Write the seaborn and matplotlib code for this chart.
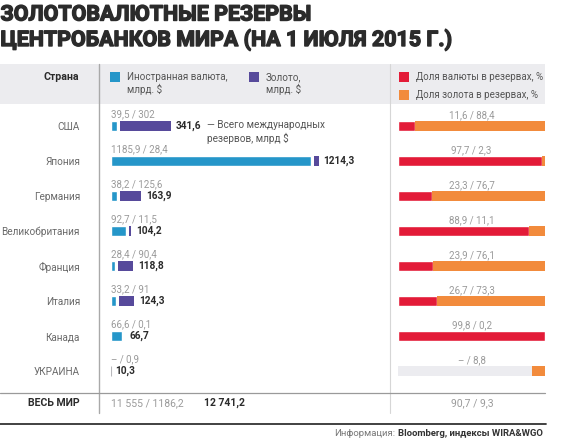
import numpy as np
import pandas as pd
import matplotlib
matplotlib.use("Agg")
import matplotlib.pyplot as plt
import matplotlib.patheffects as pe
import seaborn as sns
from matplotlib.lines import Line2D
from matplotlib.patches import Rectangle

# ---------------- data ----------------
countries = ["США", "Япония", "Германия", "Великобритания", "Франция",
             "Италия", "Канада", "УКРАИНА"]
fx_bn = [39.5, 1185.9, 38.2, 92.7, 28.4, 33.2, 66.6, np.nan]
gold_bn = [302, 28.4, 125.6, 11.5, 90.4, 91, 0.1, 0.9]
total_bn = [341.6, 1214.3, 163.9, 104.2, 118.8, 124.3, 66.7, 10.3]
fx_pct = [11.6, 97.7, 23.3, 88.9, 23.9, 26.7, 99.8, np.nan]
gold_pct = [88.4, 2.3, 76.7, 11.1, 76.1, 73.3, 0.2, 8.8]
world_label = "ВЕСЬ МИР"
world_fx_bn = 11555
world_gold_bn = 1186.2
world_total_bn = 12741.2
world_fx_pct = 90.7
world_gold_pct = 9.3

title_lines = ["ЗОЛОТОВАЛЮТНЫЕ РЕЗЕРВЫ", "ЦЕНТРОБАНКОВ МИРА (НА 1 ИЮЛЯ 2015 Г.)"]

# ---------------- style ----------------
BLUE = "#2596c9"
PURPLE = "#574a9b"
RED = "#e31b38"
ORANGE = "#f28b3c"
BAND = "#ececef"
EMPTY = "#ececf0"
DARK = "#2b2b2b"
MID = "#6a6a6a"
LIGHT = "#9a9a9a"

W, H = 580, 438
sns.set_theme(style="white")
plt.rcParams["font.family"] = ["Roboto", "DejaVu Sans"]
PT = 72 / 100.0  # points per pixel at dpi 100

fig = plt.figure(figsize=(W / 100, H / 100), dpi=100)
fig.patch.set_facecolor("white")


def fx_(x):
    return x / W


def fy_(y):
    return 1 - y / H


def fmt(v):
    if pd.isna(v):
        return "–"
    s = f"{v:.1f}".rstrip("0").rstrip(".")
    ip, _, dp = s.partition(".")
    if len(ip) > 4:
        ip = f"{int(ip):,}".replace(",", " ")
    return ip + ("," + dp if dp else "")


df = pd.DataFrame({"country": countries, "fx": fx_bn, "gold": gold_bn,
                   "total": total_bn, "fx_pct": fx_pct, "gold_pct": gold_pct})
n = len(countries)
ypos = np.arange(n)

# ---------------- header band & rules ----------------
fig.add_artist(Rectangle((0, fy_(104)), 545 / W, 40 / H, facecolor=BAND,
                         edgecolor="none", transform=fig.transFigure, zorder=0))
fig.add_artist(Line2D([fx_(98.5)] * 2, [fy_(64), fy_(413)], color="#a9a9a9",
                      lw=1.0, transform=fig.transFigure, zorder=1))
fig.add_artist(Line2D([fx_(389.5)] * 2, [fy_(64), fy_(413)], color="#d6d6d6",
                      lw=0.8, transform=fig.transFigure, zorder=1))
fig.add_artist(Line2D([0, fx_(545)], [fy_(392.5)] * 2, color="#9a9a9a",
                      lw=0.9, transform=fig.transFigure, zorder=1))
fig.add_artist(Line2D([0, fx_(546)], [fy_(424)] * 2, color="#333333",
                      lw=1.3, transform=fig.transFigure, zorder=1))

# ---------------- left panel: billions ----------------
PX_PER_BN = 0.1692
ax1_w = 270
ax1 = fig.add_axes([fx_(110.5), fy_(388.5), ax1_w / W, 280 / H])
ax1.set_facecolor("none")
bar_h = 10.7 / 35
gap_bn = 2.6 / PX_PER_BN

sns.barplot(data=df, x="fx", y="country", order=countries, orient="h",
            color=BLUE, saturation=1, width=bar_h, ax=ax1)
fx_arr = np.array(fx_bn, dtype=float)
left_gold = np.where(np.isnan(fx_arr), 0, fx_arr + gap_bn)
gbars = ax1.barh(ypos, gold_bn, left=left_gold, height=bar_h, color=PURPLE,
                 edgecolor="none")
for i in range(n):
    if np.isnan(fx_arr[i]):
        gbars[i].set_color("#b8b8bc")
        gbars[i].set_linewidth(0.8)
        gbars[i].set_edgecolor("#b8b8bc")
ax1.set_xlim(0, ax1_w / PX_PER_BN)
ax1.set_ylim(n - 0.5, -0.5)

for i in range(n):
    ax1.annotate(f"{fmt(fx_bn[i])} / {fmt(gold_bn[i])}", xy=(0, i),
                 xytext=(0.5 * PT, 12 * PT), textcoords="offset points",
                 ha="left", va="center", fontsize=7, color=LIGHT,
                 annotation_clip=False)
    end = left_gold[i] + gold_bn[i]
    ax1.annotate(fmt(total_bn[i]), xy=(end, i), xytext=(5 * PT, 0),
                 textcoords="offset points", ha="left", va="center",
                 fontsize=7.3, fontweight="bold", color=DARK,
                 annotation_clip=False)

for s in ax1.spines.values():
    s.set_visible(False)
ax1.set_xticks([])
ax1.set_xlabel("")
ax1.set_ylabel("")
ax1.tick_params(axis="y", length=0, pad=(110.5 - 80) * PT, labelsize=7.2,
                labelcolor=MID)

fig.text(fx_(207), fy_(132), "— Всего международных\nрезервов, млрд $",
         ha="left", va="center", fontsize=7.2, color="#555555",
         linespacing=1.2)

# ---------------- right panel: shares ----------------
ax2 = fig.add_axes([fx_(398.3), fy_(388.5), 146.7 / W, 280 / H])
ax2.set_facecolor("none")
fxp = np.array(fx_pct, dtype=float)
empty = np.where(np.isnan(fxp), 100.0, 0.0)
ax2.barh(ypos, empty, height=bar_h, color=EMPTY, edgecolor="none")
sns.barplot(data=df, x="fx_pct", y="country", order=countries, orient="h",
            color=RED, saturation=1, width=bar_h, ax=ax2)
ax2.barh(ypos, gold_pct, left=100 - np.array(gold_pct), height=bar_h,
         color=ORANGE, edgecolor="none")
ax2.set_xlim(0, 100)
ax2.set_ylim(n - 0.5, -0.5)
for i in range(n):
    ax2.annotate(f"{fmt(fx_pct[i])} / {fmt(gold_pct[i])}", xy=(50, i),
                 xytext=(0, 11 * PT), textcoords="offset points",
                 ha="center", va="center", fontsize=7, color=LIGHT,
                 annotation_clip=False)
for s in ax2.spines.values():
    s.set_visible(False)
ax2.set_xticks([])
ax2.set_yticks([])
ax2.set_xlabel("")
ax2.set_ylabel("")

# ---------------- header legend ----------------
for (x, y, c) in [(110, 72, BLUE), (249, 72, PURPLE), (399, 72, RED),
                  (399, 90, ORANGE)]:
    fig.add_artist(Rectangle((fx_(x), fy_(y + 10)), 10 / W, 10 / H,
                             facecolor=c, edgecolor="none",
                             transform=fig.transFigure, zorder=2))
fig.text(fx_(79), fy_(77.5), "Страна", ha="right", va="center", fontsize=7.6,
         fontweight="bold", color=DARK)
fig.text(fx_(127), fy_(83.5), "Иностранная валюта,\nмлрд. $", ha="left",
         va="center", fontsize=7.1, color="#555555", linespacing=1.25)
fig.text(fx_(266), fy_(83.5), "Золото,\nмлрд. $", ha="left",
         va="center", fontsize=7.1, color="#555555", linespacing=1.25)
fig.text(fx_(416), fy_(77), "Доля валюты в резервах, %", ha="left",
         va="center", fontsize=7.0, color="#555555")
fig.text(fx_(416), fy_(95), "Доля золота в резервах, %", ha="left",
         va="center", fontsize=7.0, color="#555555")

# ---------------- world row ----------------
fig.text(fx_(80), fy_(403), world_label, ha="right", va="center",
         fontsize=7.6, fontweight="bold", color=DARK)
fig.text(fx_(111), fy_(403), f"{fmt(world_fx_bn)} / {fmt(world_gold_bn)}",
         ha="left", va="center", fontsize=7.5, color=LIGHT)
fig.text(fx_(204), fy_(403), fmt(world_total_bn), ha="left", va="center",
         fontsize=7.5, fontweight="bold", color=DARK)
fig.text(fx_(472), fy_(403), f"{fmt(world_fx_pct)} / {fmt(world_gold_pct)}",
         ha="center", va="center", fontsize=7.5, color=LIGHT)

# ---------------- title (fit to width) ----------------
title_fam = ["Liberation Sans Narrow", "Roboto", "DejaVu Sans"]
stroke = [pe.withStroke(linewidth=1.0, foreground=DARK)]
t1 = fig.text(0.5 / W, fy_(20.5), title_lines[0], ha="left", va="baseline",
              fontsize=18, fontweight="bold", color=DARK, family=title_fam,
              path_effects=stroke)
t2 = fig.text(0.5 / W, fy_(46), title_lines[1], ha="left", va="baseline",
              fontsize=18, fontweight="bold", color=DARK, family=title_fam,
              path_effects=stroke)

# footer
f_bold = fig.text(fx_(543), fy_(433), "Bloomberg, индексы WIRA&WGO",
                  ha="right", va="center", fontsize=6.8, fontweight="bold",
                  color="#333333")

fig.canvas.draw()
r = fig.canvas.get_renderer()
w2 = t2.get_window_extent(r).width
size = 18 * 452 / w2
t1.set_fontsize(size)
t2.set_fontsize(size)
bb = f_bold.get_window_extent(r)
fig.text(bb.x0 / W - 3 / W, fy_(433), "Информация:", ha="right", va="center",
         fontsize=6.8, color="#777777")

fig.savefig("out.png", dpi=100)
